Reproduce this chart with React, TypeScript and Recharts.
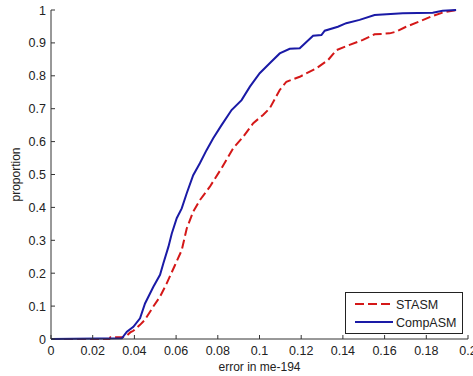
import { LineChart, Line, XAxis, YAxis, Legend } from "recharts";

const xTicks = [0, 0.02, 0.04, 0.06, 0.08, 0.1, 0.12, 0.14, 0.16, 0.18, 0.2];
const xTickLabels = ["0", "0.02", "0.04", "0.06", "0.08", "0.1", "0.12", "0.14", "0.16", "0.18", "0.2"];
const yTicks = [0, 0.1, 0.2, 0.3, 0.4, 0.5, 0.6, 0.7, 0.8, 0.9, 1];
const yTickLabels = ["0", "0.1", "0.2", "0.3", "0.4", "0.5", "0.6", "0.7", "0.8", "0.9", "1"];

// STASM (red dashed)
const stasmX = [0, 0.028, 0.0285, 0.034, 0.036, 0.038, 0.0395, 0.0427, 0.045, 0.049, 0.0523, 0.0555, 0.0595, 0.0627, 0.0651, 0.0682, 0.0714, 0.0762, 0.0818, 0.0874, 0.0922, 0.097, 0.1017, 0.1049, 0.1097, 0.1129, 0.1193, 0.1273, 0.1329, 0.1369, 0.1432, 0.1496, 0.1552, 0.1624, 0.1655, 0.1703, 0.1767, 0.1831, 0.1878, 0.1943];
const stasmY = [0, 0, 0.005, 0.005, 0.008, 0.02, 0.025, 0.043, 0.058, 0.098, 0.129, 0.169, 0.225, 0.27, 0.336, 0.387, 0.422, 0.463, 0.519, 0.58, 0.615, 0.656, 0.681, 0.701, 0.757, 0.782, 0.797, 0.823, 0.848, 0.878, 0.894, 0.909, 0.926, 0.929, 0.934, 0.949, 0.965, 0.982, 0.992, 1.0];

// CompASM (blue solid)
const compX = [0, 0.034, 0.0364, 0.0395, 0.0427, 0.0451, 0.0491, 0.0523, 0.0539, 0.0563, 0.0579, 0.0603, 0.0627, 0.0651, 0.0682, 0.0714, 0.0746, 0.0778, 0.0818, 0.0866, 0.0914, 0.0954, 0.1001, 0.1049, 0.1097, 0.1145, 0.1193, 0.1257, 0.1297, 0.1313, 0.1376, 0.1416, 0.148, 0.1552, 0.1687, 0.1831, 0.1878, 0.1943];
const compY = [0, 0.002, 0.022, 0.037, 0.063, 0.108, 0.159, 0.195, 0.23, 0.28, 0.32, 0.367, 0.397, 0.443, 0.498, 0.534, 0.574, 0.61, 0.65, 0.696, 0.726, 0.767, 0.808, 0.838, 0.868, 0.882, 0.884, 0.922, 0.924, 0.937, 0.949, 0.96, 0.97, 0.985, 0.99, 0.992, 0.998, 1.0];

const stasm = stasmX.map((x, i) => ({ x, y: stasmY[i] }));
const comp = compX.map((x, i) => ({ x, y: compY[i] }));

const RED = "#d41818";
const BLUE = "#1a1aa6";
const AXIS = "#333";
const FONT = "'Liberation Sans', Arial, sans-serif";

const XTick = (props: any) => {
  const { x, y, payload, index } = props;
  return (
    <g>
      <line x1={x} x2={x} y1={y} y2={y - 4} stroke={AXIS} />
      <text x={x} y={y + 16} textAnchor="middle" fontSize={12.5} fill="#222" fontFamily={FONT}>
        {xTickLabels[index] ?? String(payload.value)}
      </text>
    </g>
  );
};

const YTick = (props: any) => {
  const { x, y, payload, index } = props;
  return (
    <g>
      <line x1={x} x2={x + 4} y1={y} y2={y} stroke={AXIS} />
      <text x={x - 5} y={y + 4.5} textAnchor="end" fontSize={12.5} fill="#222" fontFamily={FONT}>
        {yTickLabels[index] ?? String(payload.value)}
      </text>
    </g>
  );
};

const LegendBox = () => (
  <svg width={118} height={42} style={{ display: "block" }}>
    <rect x={0.5} y={0.5} width={117} height={41} fill="#fff" stroke="#222" />
    <line x1={10} x2={48} y1={12} y2={12} stroke={RED} strokeWidth={2} strokeDasharray="9 4" />
    <text x={51} y={16.5} fontSize={12.5} fill="#222" fontFamily={FONT}>STASM</text>
    <line x1={10} x2={48} y1={30} y2={30} stroke={BLUE} strokeWidth={2} />
    <text x={51} y={34.5} fontSize={12.5} fill="#222" fontFamily={FONT}>CompASM</text>
  </svg>
);

export default function App() {
  return (
    <div style={{ position: "absolute", left: 0, top: 0, background: "#fff" }}>
      <LineChart width={473} height={376} margin={{ top: 10, right: 5, left: 0, bottom: 0 }}>
        <XAxis
          dataKey="x"
          type="number"
          domain={[0, 0.2]}
          ticks={xTicks}
          interval={0}
          height={37}
          tickSize={0}
          tickMargin={0}
          tick={<XTick />}
          stroke={AXIS}
          allowDataOverflow
          label={{ value: "error in me-194", position: "insideBottom", offset: 5, fontSize: 12, fill: "#222", fontFamily: FONT }}
        />
        <YAxis
          type="number"
          domain={[0, 1]}
          ticks={yTicks}
          interval={0}
          width={51}
          tickSize={0}
          tickMargin={0}
          tick={<YTick />}
          stroke={AXIS}
          label={{ value: "proportion", angle: -90, position: "insideLeft", offset: 16, style: { textAnchor: "middle" }, fontSize: 12, fill: "#222", fontFamily: FONT }}
        />
        <Legend
          layout="vertical"
          align="center"
          verticalAlign="middle"
          content={() => <LegendBox />}
          wrapperStyle={{ left: 345, top: 292, width: 118, height: 42 }}
        />
        <Line
          data={stasm}
          dataKey="y"
          name="STASM"
          type="linear"
          stroke={RED}
          strokeWidth={2}
          strokeDasharray="9 4"
          dot={false}
          isAnimationActive={false}
        />
        <Line
          data={comp}
          dataKey="y"
          name="CompASM"
          type="linear"
          stroke={BLUE}
          strokeWidth={2}
          dot={false}
          isAnimationActive={false}
        />
      </LineChart>
    </div>
  );
}
